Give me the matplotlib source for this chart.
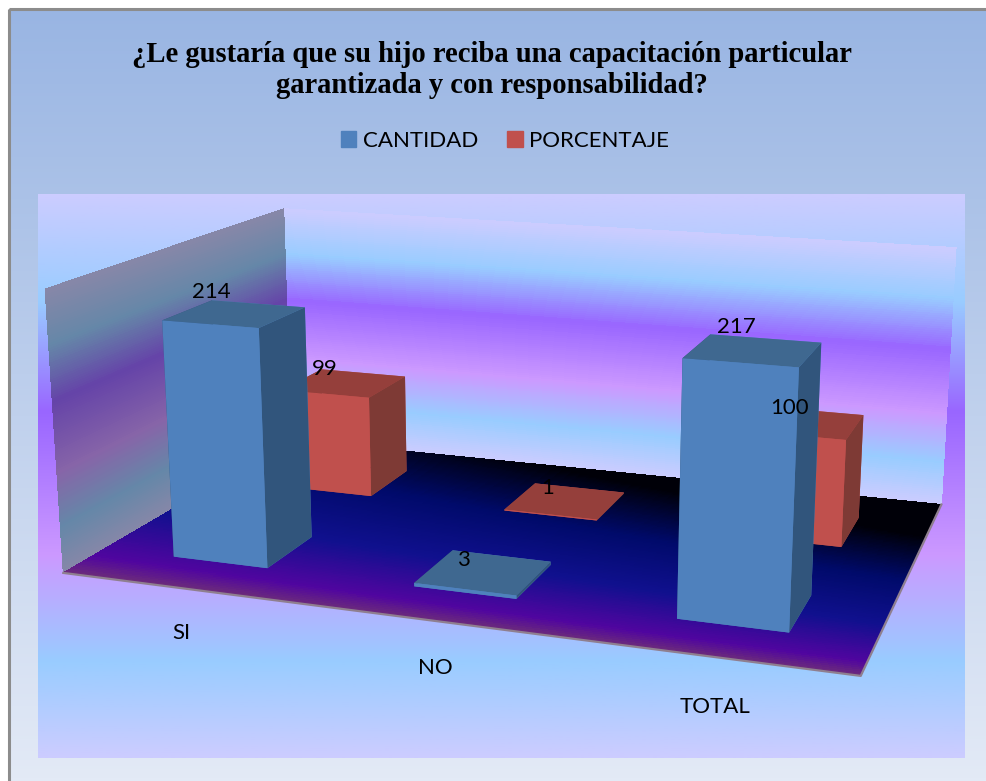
import numpy as np
import matplotlib
matplotlib.use("Agg")
import matplotlib.pyplot as plt
from matplotlib.colors import LinearSegmentedColormap
from matplotlib.patches import Patch, Rectangle

titulo = "¿Le gustaría que su hijo reciba una capacitación particular\ngarantizada y con responsabilidad?"
categorias = ["SI", "NO", "TOTAL"]
cantidad = [214, 3, 217]
porcentaje = [99, 1, 100]
series = ["CANTIDAD", "PORCENTAJE"]

W, H = 987, 781
ZMAX = 250.0
plt.rcParams['font.family'] = ['Lato', 'DejaVu Sans']

# Office style multi stop gradient used by plot area and walls
stops = [(0.0, "#ccccff"), (0.19, "#99ccff"), (0.385, "#9966ff"),
         (0.64, "#cc99ff"), (0.83, "#99ccff"), (1.0, "#ccccff")]
area_cmap = LinearSegmentedColormap.from_list("area", stops)
outer_cmap = LinearSegmentedColormap.from_list("outer", ["#99b5e3", "#e3eaf6"])
floor_cmap = LinearSegmentedColormap.from_list("floor", [
    (0.0, "#6b2a7c"), (0.08, "#50059f"), (0.32, "#10108e"),
    (0.64, "#000a6a"), (1.0, "#000008")])

fig = plt.figure(figsize=(W / 100, H / 100), dpi=100, facecolor="white")

# flat background: outer panel and plot area
bg = fig.add_axes([0, 0, 1, 1], zorder=0)
bg.axis("off")
grad = np.linspace(0, 1, 256).reshape(-1, 1)
bg.imshow(grad, cmap=outer_cmap, extent=[9, W, H, 9], aspect="auto", vmin=0, vmax=1)
bg.imshow(grad, cmap=area_cmap, extent=[38, 965, 758, 194], aspect="auto", vmin=0, vmax=1)
bg.add_patch(Rectangle((9, 9), W, H, fill=False, ec="#8c8c8c", lw=2.2))
bg.set_xlim(0, W)
bg.set_ylim(H, 0)

# 3D part, axes is forced square so it overflows the figure
side = 1000
cx, cy = 512, 418
ax = fig.add_axes([(cx - side / 2) / W, 1 - (cy + side / 2) / H, side / W, side / H],
                  projection="3d", computed_zorder=False, zorder=1)
ax.set_axis_off()
ax.patch.set_visible(False)
ax.set_xlim(0, 3, view_margin=0)
ax.set_ylim(0, 1, view_margin=0)
ax.set_zlim(0, ZMAX, view_margin=0)
ax.set_xticks([])
ax.set_yticks([])
ax.set_zticks([])
ax.set_box_aspect((2.67, 1.73, 0.967), zoom=0.931)
ax.view_init(elev=14.8, azim=-70.7)
ax.set_proj_type("persp", focal_length=0.36)

n = 120
s = np.linspace(0, 1, n + 1)
mid = (s[:-1] + s[1:]) / 2

# back wall
X, Z = np.meshgrid([0, 3], s * ZMAX)
ax.plot_surface(X, np.ones_like(X), Z, facecolors=area_cmap(1 - mid)[:, None, :],
                rstride=1, cstride=1, shade=False, linewidth=0, antialiased=False, zorder=1)
# left wall, same gradient darkened
Y, Z = np.meshgrid([0, 1], s * ZMAX)
wall = area_cmap(1 - mid)[:, None, :].copy()
wall[..., :3] *= 0.66
ax.plot_surface(np.zeros_like(Y), Y, Z, facecolors=wall,
                rstride=1, cstride=1, shade=False, linewidth=0, antialiased=False, zorder=2)
# floor
Xf, Yf = np.meshgrid(np.linspace(0, 3, 61), s)
tx, ty = np.meshgrid((Xf[0, :-1] + Xf[0, 1:]) / 2, mid)
ax.plot_surface(Xf, Yf, np.zeros_like(Xf), facecolors=floor_cmap(np.clip(ty * (0.8 + 0.2 * tx / 1.2), 0, 1)),
                rstride=1, cstride=1, shade=False, linewidth=0, antialiased=False, zorder=3)
ax.plot([0, 3, 3], [0, 0, 1], [0, 0, 0], color="#8f7f8f", lw=1.6, zorder=4)

bar_w, bar_d = 0.40, 0.20
azul = ["#4f81bd", "#3f6890", "#4f81bd", "#4f81bd", "#31557c", "#31557c"]
rojo = ["#c0504d", "#953f3b", "#c0504d", "#c0504d", "#7e3a35", "#7e3a35"]

for i, v in enumerate(porcentaje):
    ax.bar3d(i + 0.505 - bar_w / 2, 0.65, 0, bar_w, bar_d, v, color=rojo, shade=False, zorder=5 + i)
for i, v in enumerate(cantidad):
    ax.bar3d(i + 0.5 - bar_w / 2, 0.155, 0, bar_w, bar_d, v, color=azul, shade=False, zorder=10 + i)

for i, v in enumerate(cantidad):
    ax.text(i * 1.015 + 0.41, 0.25, v * 1.04 + 10, str(v), fontsize=16, ha="center", va="center", zorder=20)
for i, v in enumerate(porcentaje):
    ax.text(i + 0.46, 0.7, v + 19, str(v), fontsize=16, ha="center", va="center", zorder=20)
for i, c in enumerate(categorias):
    ax.text(i * 0.945 + 0.72, -0.205, 0, c, fontsize=16, ha="center", va="center", zorder=20)

fig.text(492 / W, 1 - 70 / H, titulo, family="Liberation Serif", weight="bold", fontsize=20.6,
         ha="center", va="center", linespacing=1.2)
fig.legend(handles=[Patch(color="#4f81bd", label=series[0]), Patch(color="#c0504d", label=series[1])],
           loc="center", bbox_to_anchor=(505 / W, 1 - 141 / H), ncol=2, frameon=False, fontsize=16,
           handlelength=0.7, handleheight=0.7, handletextpad=0.3, columnspacing=1.3)

plt.savefig("out.png", dpi=100)
